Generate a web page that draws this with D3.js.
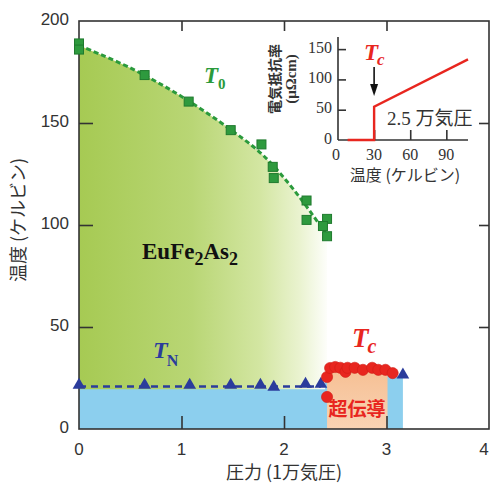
<!DOCTYPE html>
<html>
<head>
<meta charset="utf-8">
<script src="https://cdn.jsdelivr.net/npm/d3@7"></script>
<style>
  html, body { margin: 0; padding: 0; background: #fff; }
  svg { display: block; }
</style>
</head>
<body>
<svg id="chart" width="490" height="486"></svg>
<script>
// ---- data ----
// T0 (structural / SDW transition), squares
const t0Pressure = [0, 0, 0.64, 1.07, 1.48, 1.78, 1.89, 1.90, 2.22, 2.22, 2.42, 2.38, 2.42];
const t0Temp     = [189, 186, 173.5, 160.5, 146.5, 139.5, 128.5, 123, 112, 102.5, 103, 99.5, 94.5];
// smooth guide curve through the T0 points
const t0GuideP = [0, 0.5, 1.0, 1.5, 1.8, 2.1, 2.42];
const t0GuideT = [188, 177, 163, 146, 134, 117, 95];

// TN (Eu2+ antiferromagnetic order), triangles
const tnPressure = [0, 0.64, 1.08, 1.48, 1.77, 1.90, 2.21, 2.36, 3.16];
const tnTemp     = [21.5, 21.5, 21.5, 21.5, 21.5, 20.5, 22, 22, 26.5];

// Tc (superconducting transition), circles
const tcPressure = [2.42, 2.42, 2.45, 2.50, 2.55, 2.60, 2.62, 2.69, 2.77, 2.86, 2.92, 2.99, 3.06];
const tcTemp     = [15.7, 25.5, 29.9, 30.4, 30, 28, 30, 30, 29, 30, 29, 29, 27.4];

// phase regions
const blueBoundP = [0, 2.40, 2.40, 3.16];
const blueBoundT = [19.5, 19.5, 26, 26];
const scBoundP = [2.42, 2.45, 2.55, 2.69, 2.86, 2.99, 3.01];
const scBoundT = [27, 30, 30, 30, 30, 29, 29];

// axis ticks
const xTicks = [0, 1, 2, 3, 4];
const yTicks = [0, 50, 100, 150, 200];

// inset: resistivity at 2.5 万気圧
const insetTemp = [8, 30, 30, 108];
const insetRho  = [0, 0, 55, 133];
const insetXTicks = [0, 30, 60, 90];
const insetYTicks = [0, 50, 100, 150];

// ---- drawing ----
const svg = d3.select("#chart");
const x = d3.scaleLinear().domain([0, 4]).range([79, 489]);
const y = d3.scaleLinear().domain([0, 200]).range([429, 21]);

const sans = "'Liberation Sans', Arial, sans-serif";
const cjk = "'Noto Sans CJK JP', 'Noto Sans', sans-serif";
const serif = "'Liberation Serif', 'Times New Roman', serif";

const defs = svg.append("defs");
const gGreen = defs.append("linearGradient").attr("id", "greenFade")
  .attr("gradientUnits", "userSpaceOnUse")
  .attr("x1", x(0)).attr("y1", 0).attr("x2", x(2.45)).attr("y2", 0);
[[0, "#a6ca53"], [0.45, "#b9d675"], [0.72, "#d3e6a2"], [0.88, "#eaf3d0"], [1, "#ffffff"]]
  .forEach(([o, c]) => gGreen.append("stop").attr("offset", o).attr("stop-color", c));

const gOrange = defs.append("linearGradient").attr("id", "scFill")
  .attr("x1", 0).attr("y1", 0).attr("x2", 0).attr("y2", 1);
gOrange.append("stop").attr("offset", 0).attr("stop-color", "#f6bf93");
gOrange.append("stop").attr("offset", 1).attr("stop-color", "#f9d3b4");

const smooth = d3.curveCatmullRom.alpha(0.5);

// green region under T0 guide
const guide = t0GuideP.map((p, i) => [p, t0GuideT[i]]);
svg.append("path")
  .datum(guide)
  .attr("fill", "url(#greenFade)")
  .attr("d", d3.area().x(d => x(d[0])).y0(y(0)).y1(d => y(d[1])).curve(smooth));

// antiferromagnetic (blue) region
const blue = blueBoundP.map((p, i) => [p, blueBoundT[i]]);
svg.append("path")
  .datum(blue)
  .attr("fill", "#8ccfee")
  .attr("d", d3.area().x(d => x(d[0])).y0(y(0)).y1(d => y(d[1])));

// superconducting region
const sc = scBoundP.map((p, i) => [p, scBoundT[i]]);
svg.append("path")
  .datum(sc)
  .attr("fill", "url(#scFill)")
  .attr("d", d3.area().x(d => x(d[0])).y0(y(0)).y1(d => y(d[1])).curve(d3.curveMonotoneX));

// T0 dashed guide
svg.append("path")
  .datum(guide)
  .attr("fill", "none")
  .attr("stroke", "#2b9a3c")
  .attr("stroke-width", 3)
  .attr("stroke-dasharray", "5,3")
  .attr("d", d3.line().x(d => x(d[0])).y(d => y(d[1])).curve(smooth));

// TN dashed line (through the low-pressure points)
const tnLine = tnPressure.slice(0, 8).map(p => [p, 20.8]);
svg.append("path")
  .datum(tnLine)
  .attr("fill", "none")
  .attr("stroke", "#2b3c9c")
  .attr("stroke-width", 2.6)
  .attr("stroke-dasharray", "7,5")
  .attr("d", d3.line().x(d => x(d[0])).y(d => y(d[1])));

// frame
svg.append("rect")
  .attr("x", x(0)).attr("y", y(200))
  .attr("width", x(4) - x(0)).attr("height", y(0) - y(200))
  .attr("fill", "none").attr("stroke", "#333").attr("stroke-width", 1.6);

// axes (inward ticks)
const axB = svg.append("g").attr("transform", `translate(0,${y(0)})`)
  .call(d3.axisTop(x).tickValues([1, 2, 3]).tickSize(13).tickFormat(""));
const axT = svg.append("g").attr("transform", `translate(0,${y(200)})`)
  .call(d3.axisBottom(x).tickValues([1, 2, 3]).tickSize(10).tickFormat(""));
const axL = svg.append("g").attr("transform", `translate(${x(0)},0)`)
  .call(d3.axisRight(y).tickValues([50, 100, 150]).tickSize(14).tickFormat(""));
const axR = svg.append("g").attr("transform", `translate(${x(4)},0)`)
  .call(d3.axisLeft(y).tickValues([50, 100, 150]).tickSize(10).tickFormat(""));
[axB, axT, axL, axR].forEach(g => {
  g.select(".domain").remove();
  g.selectAll("line").attr("stroke", "#333").attr("stroke-width", 1.6);
});

// tick labels
svg.append("g").selectAll("text").data(xTicks).join("text")
  .attr("x", d => Math.min(x(d), 484)).attr("y", 451)
  .attr("text-anchor", "middle").attr("dominant-baseline", "middle")
  .attr("font-family", sans).attr("font-size", 17).attr("fill", "#333")
  .text(d => d);
svg.append("g").selectAll("text").data(yTicks).join("text")
  .attr("x", 69).attr("y", d => y(d))
  .attr("text-anchor", "end").attr("dominant-baseline", "middle")
  .attr("font-family", sans).attr("font-size", 17).attr("fill", "#333")
  .text(d => d);

// axis titles
svg.append("text")
  .attr("x", 284).attr("y", 474)
  .attr("text-anchor", "middle").attr("dominant-baseline", "middle")
  .attr("font-family", cjk).attr("font-size", 18).attr("fill", "#333")
  .text("圧力 (1万気圧)");
svg.append("text")
  .attr("transform", "translate(20,220) rotate(-90)")
  .attr("text-anchor", "middle").attr("dominant-baseline", "middle")
  .attr("font-family", cjk).attr("font-size", 18).attr("fill", "#333")
  .text("温度 (ケルビン)");

// markers
svg.append("g").selectAll("rect").data(t0Pressure.map((p, i) => [p, t0Temp[i]])).join("rect")
  .attr("x", d => x(d[0]) - 4.5).attr("y", d => y(d[1]) - 4.5)
  .attr("width", 9).attr("height", 9)
  .attr("fill", "#2e9a3e").attr("stroke", "#1f7a2e").attr("stroke-width", 1);

const tri = d3.symbol().type(d3.symbolTriangle).size(70);
svg.append("g").selectAll("path").data(tnPressure.map((p, i) => [p, tnTemp[i]])).join("path")
  .attr("transform", d => `translate(${x(d[0])},${y(d[1])})`)
  .attr("d", tri)
  .attr("fill", "#2b3c9c");

svg.append("g").selectAll("circle").data(tcPressure.map((p, i) => [p, tcTemp[i]])).join("circle")
  .attr("cx", d => x(d[0])).attr("cy", d => y(d[1])).attr("r", 5.6)
  .attr("fill", "#e8261f").attr("stroke", "#d01c16").attr("stroke-width", 0.6);

// labels
function subLabel(px, py, main, sub, color, size, subSize, dx, dy, subItalic) {
  const t = svg.append("text")
    .attr("x", px).attr("y", py)
    .attr("font-family", serif).attr("font-style", "italic").attr("font-weight", "bold")
    .attr("font-size", size).attr("fill", color);
  t.append("tspan").text(main);
  t.append("tspan").attr("dx", dx).attr("dy", dy).attr("font-size", subSize)
    .attr("font-style", subItalic ? "italic" : "normal").text(sub);
  return t;
}
subLabel(204, 83, "T", "0", "#2b9a3c", 23, 15, 0, 6, false);
subLabel(153, 358, "T", "N", "#2b3c9c", 24, 16, -1, 8, false);
subLabel(352, 347, "T", "c", "#e8261f", 27, 20, -1, 6, true);

// compound label
const eu = svg.append("text")
  .attr("x", 142).attr("y", 259)
  .attr("font-family", serif).attr("font-weight", "bold")
  .attr("font-size", 23).attr("fill", "#111");
eu.append("tspan").text("EuFe");
eu.append("tspan").attr("dy", 6).attr("font-size", 18).text("2");
eu.append("tspan").attr("dy", -6).text("As");
eu.append("tspan").attr("dy", 6).attr("font-size", 18).text("2");

svg.append("text")
  .attr("x", 357).attr("y", 411)
  .attr("text-anchor", "middle").attr("dominant-baseline", "middle")
  .attr("font-family", cjk).attr("font-weight", "bold")
  .attr("font-size", 19).attr("fill", "#e8261f")
  .text("超伝導");

// ---- inset ----
const ix = d3.scaleLinear().domain([0, 108]).range([338, 468]);
const iy = d3.scaleLinear().domain([0, 170]).range([140, 37]);
const inset = svg.append("g");

inset.append("line")
  .attr("x1", ix(0)).attr("x2", ix(0)).attr("y1", iy(0)).attr("y2", iy(170))
  .attr("stroke", "#333").attr("stroke-width", 1.6);
inset.append("line")
  .attr("x1", ix(0)).attr("x2", ix(108)).attr("y1", iy(0)).attr("y2", iy(0))
  .attr("stroke", "#333").attr("stroke-width", 1.6);

const iaxL = inset.append("g").attr("transform", `translate(${ix(0)},0)`)
  .call(d3.axisRight(iy).tickValues([50, 100, 150]).tickSize(8).tickFormat(""));
const iaxB = inset.append("g").attr("transform", `translate(0,${iy(0)})`)
  .call(d3.axisTop(ix).tickValues([30, 60, 90]).tickSize(10).tickFormat(""));
[iaxL, iaxB].forEach(g => {
  g.select(".domain").remove();
  g.selectAll("line").attr("stroke", "#333").attr("stroke-width", 1.6);
});

inset.append("g").selectAll("text").data(insetYTicks).join("text")
  .attr("x", 332).attr("y", d => iy(d))
  .attr("text-anchor", "end").attr("dominant-baseline", "middle")
  .attr("font-family", serif).attr("font-size", 16).attr("fill", "#333")
  .text(d => d);
inset.append("g").selectAll("text").data(insetXTicks).join("text")
  .attr("x", d => ix(d) - (d === 0 ? 2 : 0)).attr("y", 156)
  .attr("text-anchor", "middle").attr("dominant-baseline", "middle")
  .attr("font-family", serif).attr("font-size", 16).attr("fill", "#333")
  .text(d => d);

inset.append("text")
  .attr("x", 405).attr("y", 177)
  .attr("text-anchor", "middle").attr("dominant-baseline", "middle")
  .attr("font-family", cjk).attr("font-size", 16).attr("fill", "#333")
  .text("温度 (ケルビン)");
inset.append("text")
  .attr("transform", "translate(276,79) rotate(-90)")
  .attr("text-anchor", "middle").attr("dominant-baseline", "middle")
  .attr("font-family", cjk).attr("font-size", 14).attr("font-weight", "bold").attr("fill", "#333")
  .text("電気抵抗率");
inset.append("text")
  .attr("transform", "translate(293,79) rotate(-90)")
  .attr("text-anchor", "middle").attr("dominant-baseline", "middle")
  .attr("font-family", serif).attr("font-size", 15).attr("font-weight", "bold").attr("fill", "#333")
  .text("(μΩcm)");

inset.append("path")
  .datum(insetTemp.map((t, i) => [t, insetRho[i]]))
  .attr("fill", "none").attr("stroke", "#e8261f").attr("stroke-width", 2.4)
  .attr("d", d3.line().x(d => ix(d[0])).y(d => iy(d[1])));

const pl = inset.append("text")
  .attr("x", 387).attr("y", 125)
  .attr("font-size", 19).attr("fill", "#333");
pl.append("tspan").attr("font-family", serif).text("2.5 ");
pl.append("tspan").attr("font-family", cjk).text("万気圧");

// Tc arrow
subLabel(364, 60, "T", "c", "#e8261f", 23, 17, -1, 5, true);
inset.append("line")
  .attr("x1", ix(30)).attr("x2", ix(30)).attr("y1", 67).attr("y2", 86)
  .attr("stroke", "#111").attr("stroke-width", 1.6);
inset.append("path")
  .attr("d", `M${ix(30) - 4},84 L${ix(30) + 4},84 L${ix(30)},96 Z`)
  .attr("fill", "#111");
</script>
</body>
</html>
